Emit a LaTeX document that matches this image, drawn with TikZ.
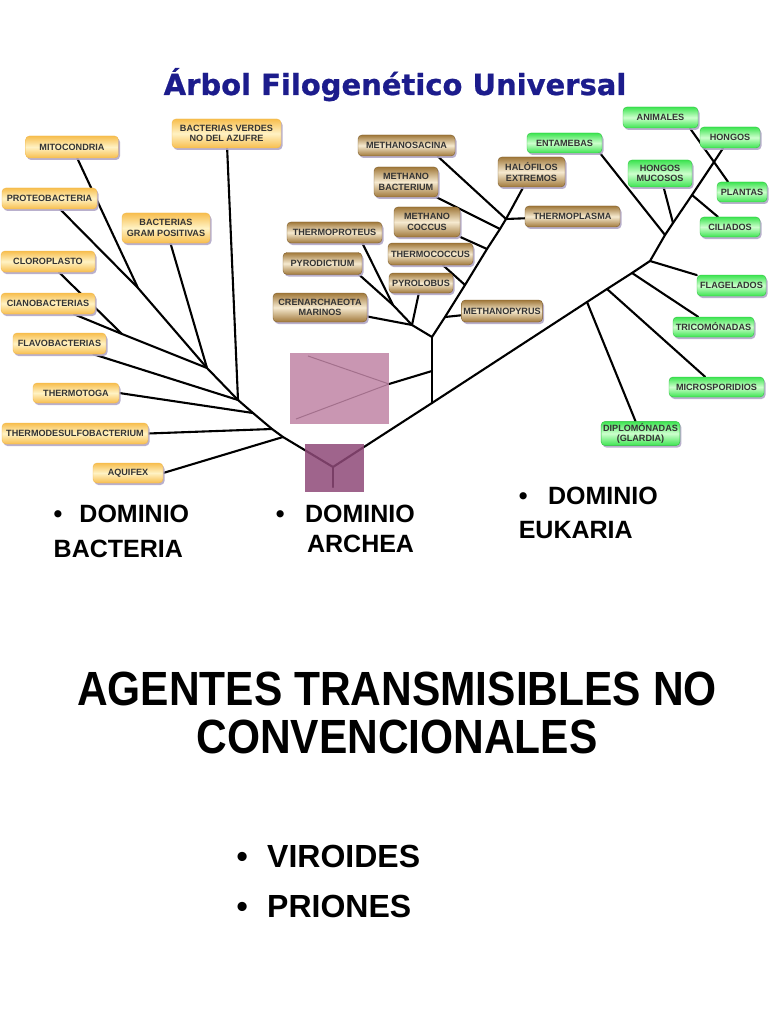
\documentclass[tikz,border=0pt]{standalone}
\usepackage{fontspec}
\setmainfont{Liberation Sans}
\newfontfamily\titlefont{DejaVu Sans}[BoldFeatures={FakeBold=0.8}]
\newfontfamily\narrowfont{Liberation Sans}[FakeStretch=0.885]
\usetikzlibrary{backgrounds, shadows}
\definecolor{Azultit}{RGB}{28,28,140}
\definecolor{Bacborde}{RGB}{247,190,78}
\definecolor{Baccentro}{RGB}{255,242,196}
\definecolor{Arqborde}{RGB}{160,120,58}
\definecolor{Arqcentro}{RGB}{246,234,208}
\definecolor{Eukborde}{RGB}{60,228,80}
\definecolor{Eukcentro}{RGB}{205,255,205}
\definecolor{Sombra}{RGB}{178,168,200}
\definecolor{Ocultoclaro}{RGB}{192,132,165}
\definecolor{Ocultooscuro}{RGB}{143,73,120}

\begin{document}
\begin{tikzpicture}[
  x=1pt, y=-1pt,
  caja/.style={rounded corners=4pt, inner xsep=2pt, inner ysep=2pt,
               align=center, text=black!80, line width=0.4pt,
               font=\bfseries\fontsize{9.1}{10.3}\selectfont,
               drop shadow={shadow xshift=1.5pt, shadow yshift=-2pt,
                            fill=Sombra, opacity=0.9}},
  bact/.style={caja, top color=Bacborde, bottom color=Bacborde,
               middle color=Baccentro, draw=Bacborde!90!brown},
  arq/.style={caja, top color=Arqborde, bottom color=Arqborde,
              middle color=Arqcentro, draw=Arqborde!80!black},
  euk/.style={caja, top color=Eukborde, bottom color=Eukborde,
              middle color=Eukcentro, draw=Eukborde!85!black},
  rama/.style={line width=2.1pt, line cap=round},
  oculta/.style={line width=1pt},
  titulo/.style={anchor=base, text=Azultit,
                 font=\titlefont\bfseries\fontsize{29}{31}\selectfont},
  dom/.style={anchor=north west, inner sep=0pt, align=left,
              font=\bfseries\fontsize{25}{35}\selectfont},
  agentes/.style={anchor=north, inner sep=0pt, align=center,
                  font=\narrowfont\bfseries\fontsize{48}{48}\selectfont}
]
\useasboundingbox (0,0) rectangle (768,1024);

\node[titulo] (titulo) at (395,95) {Árbol Filogenético Universal};

\node[bact, minimum width=93,  minimum height=22] (mito)     at (72,147)      {MITOCONDRIA};
\node[bact, minimum width=109, minimum height=29] (verdes)   at (226.5,133.5) {BACTERIAS VERDES\\NO DEL AZUFRE};
\node[bact, minimum width=95,  minimum height=21] (proteo)   at (49.5,198.5)  {PROTEOBACTERIA};
\node[bact, minimum width=88,  minimum height=30] (gram)     at (166,228)     {BACTERIAS\\GRAM POSITIVAS};
\node[bact, minimum width=94,  minimum height=21] (cloro)    at (48,261.5)    {CLOROPLASTO};
\node[bact, minimum width=94,  minimum height=21] (ciano)    at (48,303.5)    {CIANOBACTERIAS};
\node[bact, minimum width=93,  minimum height=21] (flavo)    at (59.5,343.5)  {FLAVOBACTERIAS};
\node[bact, minimum width=86,  minimum height=20] (tmotoga)  at (76,393)      {THERMOTOGA};
\node[bact, minimum width=146, minimum height=21] (tdesulfo) at (75,433.5)    {THERMODESULFOBACTERIUM};
\node[bact, minimum width=70,  minimum height=20] (aquifex)  at (128,473)     {AQUIFEX};

\node[arq, minimum width=97, minimum height=21] (msacina)  at (406.5,145.5) {METHANOSACINA};
\node[arq, minimum width=64, minimum height=30] (mbact)    at (406,182)     {METHANO\\BACTERIUM};
\node[arq, minimum width=67, minimum height=30] (halo)     at (531.5,172)   {HALÓFILOS\\EXTREMOS};
\node[arq, minimum width=95, minimum height=21] (tplasma)  at (572.5,216.5) {THERMOPLASMA};
\node[arq, minimum width=66, minimum height=30] (mcoccus)  at (427,222)     {METHANO\\COCCUS};
\node[arq, minimum width=95, minimum height=21] (proteus)  at (334.5,232.5) {THERMOPROTEUS};
\node[arq, minimum width=85, minimum height=22] (tcoccus)  at (430.5,254)   {THERMOCOCCUS};
\node[arq, minimum width=79, minimum height=22] (pyrodict) at (322.5,263.5) {PYRODICTIUM};
\node[arq, minimum width=64, minimum height=20] (pyrolob)  at (421,283)     {PYROLOBUS};
\node[arq, minimum width=94, minimum height=29] (crenar)   at (320,307.5)   {CRENARCHAEOTA\\MARINOS};
\node[arq, minimum width=80, minimum height=22] (mpyrus)   at (502,311)     {METHANOPYRUS};

\node[euk, minimum width=75, minimum height=20] (entamebas) at (564.5,143)   {ENTAMEBAS};
\node[euk, minimum width=75, minimum height=21] (animales)  at (660.5,117.5) {ANIMALES};
\node[euk, minimum width=60, minimum height=21] (hongos)    at (730,137.5)   {HONGOS};
\node[euk, minimum width=64, minimum height=27] (mucosos)   at (660,173.5)   {HONGOS\\MUCOSOS};
\node[euk, minimum width=50, minimum height=20] (plantas)   at (742,192)     {PLANTAS};
\node[euk, minimum width=60, minimum height=20] (ciliados)  at (730,227)     {CILIADOS};
\node[euk, minimum width=69, minimum height=21] (flagel)    at (731.5,285.5) {FLAGELADOS};
\node[euk, minimum width=81, minimum height=20] (tricom)    at (713.5,327)   {TRICOMÓNADAS};
\node[euk, minimum width=95, minimum height=20] (micros)    at (716.5,387)   {MICROSPORIDIOS};
\node[euk, minimum width=77, minimum height=24] (diplo)     at (640.5,433.5) {DIPLOMÓNADAS\\(GLARDIA)};

\coordinate (jMP)   at (138,288);
\coordinate (jCC)   at (122,334);
\coordinate (jB1)   at (207,368);
\coordinate (jB2)   at (238,400);
\coordinate (jB3)   at (253,413);
\coordinate (jB4)   at (272,429);
\coordinate (jB5)   at (283,437);
\coordinate (jRoot) at (333,467);
\coordinate (raiz)  at (333,487);
\coordinate (jA1)   at (432,403);
\coordinate (jOc)   at (432,371);
\coordinate (jA0)   at (432,337);
\coordinate (jH)    at (389,384);
\coordinate (hA)    at (308,356);
\coordinate (hB)    at (296,419);
\coordinate (jCr)   at (412,325);
\coordinate (jTP)   at (393,305);
\coordinate (jE1)   at (445,317);
\coordinate (jE2)   at (465,285);
\coordinate (jE3)   at (487,249);
\coordinate (jE4)   at (500,229);
\coordinate (jE5)   at (506,219);
\coordinate (jD)    at (587,302);
\coordinate (jM)    at (607,289);
\coordinate (jTr)   at (632,273);
\coordinate (jF)    at (650,261);
\coordinate (jEn)   at (665,235);
\coordinate (jHM)   at (673,223);
\coordinate (jCi)   at (692,195);
\coordinate (jX)    at (714,162);

\begin{scope}[on background layer]
\fill[white] (0,0) rectangle (768,1024);
\draw[rama] (mito) -- (jMP);
\draw[rama] (proteo) -- (jMP);
\draw[rama] (jMP) -- (jB1);
\draw[rama] (gram) -- (jB1);
\draw[rama] (cloro) -- (jCC);
\draw[rama] (ciano) -- (jCC) -- (jB1);
\draw[rama] (verdes) -- (jB2);
\draw[rama] (flavo) -- (jB2);
\draw[rama] (tmotoga.east) -- (jB3);
\draw[rama] (tdesulfo.east) -- (jB4);
\draw[rama] (aquifex.east) -- (jB5);
\draw[rama] (jB1) -- (jB2) -- (jB3) -- (jB4) -- (jB5) -- (jRoot);
\draw[rama] (jRoot) -- (raiz);
\draw[rama] (jRoot) -- (jA1);

\draw[rama] (jA1) -- (jOc) -- (jA0);
\draw[rama] (jOc) -- (jH);
\draw[oculta] (jH) -- (hA);
\draw[oculta] (jH) -- (hB);
\draw[rama] (jA0) -- (jCr) -- (jTP);
\draw[rama] (proteus.-21) -- (jTP);
\draw[rama] (pyrodict.-17) -- (jTP);
\draw[rama] (crenar) -- (jCr);
\draw[rama] (pyrolob) -- (jCr);
\draw[rama] (jA0) -- (jE1) -- (jE2) -- (jE3) -- (jE4) -- (jE5) -- (halo);
\draw[rama] (mpyrus) -- (jE1);
\draw[rama] (tcoccus) -- (jE2);
\draw[rama] (mcoccus) -- (jE3);
\draw[rama] (mbact) -- (jE4);
\draw[rama] (msacina.-19) -- (jE5);
\draw[rama] (tplasma) -- (jE5);

\draw[rama] (jA1) -- (jD) -- (jM) -- (jTr) -- (jF) -- (jEn) -- (jHM) -- (jCi) -- (jX) -- (hongos);
\draw[rama] (diplo) -- (jD);
\draw[rama] (micros) -- (jM);
\draw[rama] (tricom) -- (jTr);
\draw[rama] (flagel) -- (jF);
\draw[rama] (entamebas.-16) -- (jEn);
\draw[rama] (mucosos) -- (jHM);
\draw[rama] (ciliados) -- (jCi);
\draw[rama] (animales.-20) -- (jX) -- (plantas.144);
\end{scope}

\fill[Ocultoclaro, fill opacity=0.85] (290,353) rectangle (389,424);
\fill[Ocultooscuro, fill opacity=0.85] (305,444) rectangle (364,492);

\node[dom] (dbac) at (53.5,505) {•\hspace{17pt}DOMINIO\\BACTERIA};
\node[dom, font=\bfseries\fontsize{25}{30}\selectfont] (darq) at (275.6,505)
  {•\hspace{20.6pt}DOMINIO\\\hspace*{31.3pt}ARCHEA};
\node[dom, font=\bfseries\fontsize{25}{34}\selectfont] (deuk) at (518.6,487)
  {•\hspace{20.6pt}DOMINIO\\EUKARIA};

\node[agentes] (agentes) at (397,672) {AGENTES TRANSMISIBLES NO\\CONVENCIONALES};

\node[dom, font=\bfseries\fontsize{32}{50}\selectfont] (lista) at (236.4,845)
  {•\hspace{19.4pt}VIROIDES\\•\hspace{19.4pt}PRIONES};
\end{tikzpicture}
\end{document}
